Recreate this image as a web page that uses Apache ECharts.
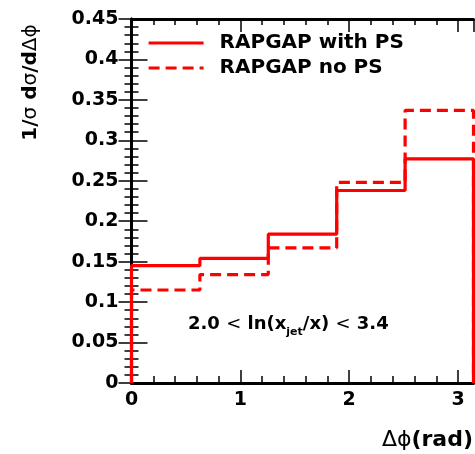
<!DOCTYPE html>
<html>
<head>
<meta charset="utf-8">
<script src="https://cdn.jsdelivr.net/npm/echarts@6/dist/echarts.min.js"></script>
<style>
  html, body { margin: 0; padding: 0; background: #ffffff; }
  #chart { width: 475px; height: 454px; }
</style>
</head>
<body>
<div id="chart"></div>
<script>
// Δϕ bin edges (rad), five equal bins over [0, π]
const binEdges = [0, 0.6283, 1.2566, 1.8850, 2.5133, 3.1416];
// normalised cross sections per bin
const withPS = [0.145, 0.154, 0.184, 0.238, 0.277];
const noPS = [0.115, 0.134, 0.167, 0.248, 0.337];
const seriesNames = ['RAPGAP with PS', 'RAPGAP no PS'];
const xRange = [0, 3.1416];
const yRange = [0, 0.45];

const FONT = 'DejaVu Sans';
const BLACK = '#000000';
const RED = '#ff0000';

// histogram outline: closed down to zero at both ends
function outline(values) {
  const pts = [[binEdges[0], 0]];
  values.forEach((v, i) => {
    pts.push([binEdges[i], v], [binEdges[i + 1], v]);
  });
  pts.push([binEdges[binEdges.length - 1], 0]);
  return pts;
}

const frameLine = { show: true, lineStyle: { color: BLACK, width: 3 } };
const noLine = { show: false };
const tickStyle = { color: BLACK, width: 1.5 };
const tickLabel = {
  fontFamily: FONT, fontWeight: 'bold', fontSize: 19, color: BLACK
};

function xAxis(position, interval, tickLen, withLine, withLabels) {
  return {
    type: 'value', position: position,
    min: xRange[0], max: xRange[1], interval: interval,
    axisLine: withLine ? frameLine : noLine,
    axisTick: { show: true, inside: true, length: tickLen, lineStyle: tickStyle },
    axisLabel: withLabels
      ? Object.assign({ show: true, margin: 8, showMaxLabel: false }, tickLabel)
      : { show: false },
    splitLine: { show: false }
  };
}

function yAxis(position, tickLen, withLabels) {
  return {
    type: 'value', position: position,
    min: yRange[0], max: yRange[1], interval: 0.05,
    axisLine: frameLine,
    axisTick: { show: true, inside: true, length: tickLen, lineStyle: tickStyle },
    minorTick: { show: true, splitNumber: 5, length: 7, lineStyle: tickStyle },
    axisLabel: withLabels
      ? Object.assign({ show: true, margin: 13 }, tickLabel)
      : { show: false },
    splitLine: { show: false },
    minorSplitLine: { show: false }
  };
}

const chart = echarts.init(document.getElementById('chart'), null, { renderer: 'canvas' });

chart.setOption({
  animation: false,
  backgroundColor: '#ffffff',
  grid: { left: 131.5, top: 19, right: 1.5, bottom: 71, outerBoundsMode: 'none', containLabel: false },
  xAxis: [
    xAxis('bottom', 1, 13, true, true),
    xAxis('bottom', 0.2, 7, false, false),
    xAxis('top', 1, 13, true, false),
    xAxis('top', 0.2, 6, false, false)
  ],
  yAxis: [
    yAxis('left', 16, true),
    yAxis('right', 13, false)
  ],
  legend: {
    orient: 'vertical', left: 147, top: 33, padding: 0,
    itemWidth: 55, itemHeight: 14, itemGap: 5,
    selectedMode: false,
    data: seriesNames,
    itemStyle: { opacity: 0 },
    lineStyle: { width: 3.2 },
    textStyle: {
      fontFamily: FONT, fontWeight: 'bold', fontSize: 20, color: BLACK,
      lineHeight: 20, padding: [0, 0, 0, 11]
    }
  },
  series: [
    {
      name: seriesNames[0], type: 'line', xAxisIndex: 0, yAxisIndex: 0,
      data: outline(withPS), symbol: 'none', clip: false, z: 6,
      lineStyle: { color: RED, width: 3.2 }, itemStyle: { color: RED }
    },
    {
      name: seriesNames[1], type: 'line', xAxisIndex: 0, yAxisIndex: 0,
      data: outline(noPS), symbol: 'none', clip: false, z: 5,
      lineStyle: { color: RED, width: 3.2, type: [11, 6] }, itemStyle: { color: RED }
    }
  ],
  graphic: [
    {
      type: 'text', x: 31, y: 82.5, rotation: Math.PI / 2,
      style: {
        text: '{b|1/}{g|σ}{b| d}{g|σ}{b|/d}{g|Δϕ}',
        align: 'center', verticalAlign: 'middle', fill: BLACK,
        rich: {
          b: { fontFamily: FONT, fontWeight: 'bold', fontSize: 20, fill: BLACK },
          g: { fontFamily: FONT, fontSize: 20, fill: BLACK }
        }
      }
    },
    {
      type: 'text', x: 473, y: 440,
      style: {
        text: '{g|Δϕ}{b|(rad)}',
        align: 'right', verticalAlign: 'middle', fill: BLACK,
        rich: {
          b: { fontFamily: FONT, fontWeight: 'bold', fontSize: 22, fill: BLACK },
          g: { fontFamily: FONT, fontSize: 22, fill: BLACK }
        }
      }
    },
    {
      type: 'text', x: 188, y: 315,
      style: {
        text: '{b|2.0 }{r|<}{b| ln(x}{s|jet}{b|/x) }{r|<}{b| 3.4}',
        align: 'left', verticalAlign: 'top', fill: BLACK,
        rich: {
          b: { fontFamily: FONT, fontWeight: 'bold', fontSize: 18, lineHeight: 20, verticalAlign: 'top', fill: BLACK },
          r: { fontFamily: FONT, fontSize: 18, lineHeight: 20, verticalAlign: 'top', fill: BLACK },
          s: { fontFamily: FONT, fontWeight: 'bold', fontSize: 11, lineHeight: 11, verticalAlign: 'top', padding: [12, 0, 0, 0], fill: BLACK }
        }
      }
    }
  ]
});
</script>
</body>
</html>
